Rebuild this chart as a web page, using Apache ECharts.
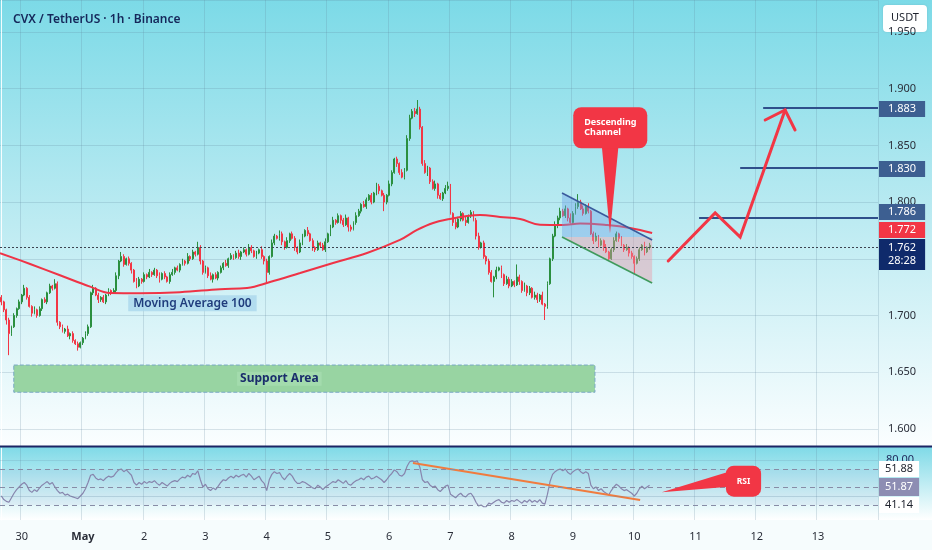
<!DOCTYPE html>
<html><head><meta charset="utf-8">
<script src="https://cdn.jsdelivr.net/npm/echarts@6/dist/echarts.min.js"></script>
<style>html,body{margin:0;padding:0;background:#f5fbfd}#c{width:932px;height:550px}</style>
</head><body><div id="c"></div><script>
// ---------- DATA ----------
const startHour = 16;              // first candle: 29 Apr 16:00, 1h candles
const slotCount = 344;             // visible hourly slots incl. empty right margin
const dayLabels = ['30','May','2','3','4','5','6','7','8','9','10','11','12','13'];
const firstOpen = 1.716;
const closes = [
1.712,1.705,1.696,1.684,1.690,1.700,1.706,1.712,1.718,1.724,
1.716,1.708,1.702,1.705,1.700,1.706,1.714,1.712,1.720,1.726,
1.724,1.728,1.694,1.690,1.686,1.688,1.682,1.684,1.678,1.675,
1.672,1.676,1.680,1.684,1.690,1.720,1.724,1.718,1.714,1.716,
1.712,1.718,1.722,1.720,1.722,1.735,1.748,1.752,1.745,1.750,
1.746,1.740,1.730,1.726,1.732,1.730,1.736,1.734,1.738,1.736,
1.740,1.735,1.732,1.737,1.734,1.730,1.736,1.738,1.742,1.740,
1.745,1.748,1.746,1.752,1.750,1.756,1.754,1.760,1.748,1.738,
1.742,1.735,1.732,1.736,1.733,1.738,1.742,1.746,1.744,1.750,
1.753,1.751,1.755,1.752,1.756,1.758,1.754,1.760,1.757,1.752,
1.755,1.758,1.752,1.748,1.738,1.752,1.764,1.770,1.768,1.772,
1.765,1.760,1.766,1.772,1.768,1.760,1.756,1.764,1.770,1.775,
1.772,1.766,1.760,1.758,1.764,1.762,1.758,1.765,1.772,1.778,
1.784,1.782,1.788,1.784,1.780,1.786,1.778,1.776,1.782,1.788,
1.792,1.798,1.796,1.802,1.806,1.800,1.808,1.814,1.810,1.806,
1.800,1.806,1.816,1.826,1.838,1.834,1.826,1.822,1.828,1.856,
1.874,1.880,1.878,1.882,1.866,1.834,1.826,1.830,1.818,1.812,
1.816,1.806,1.803,1.808,1.812,1.814,1.790,1.782,1.778,1.785,
1.790,1.784,1.782,1.788,1.791,1.784,1.770,1.760,1.764,1.752,
1.748,1.738,1.730,1.734,1.740,1.742,1.736,1.728,1.732,1.726,
1.730,1.727,1.734,1.730,1.722,1.726,1.720,1.724,1.716,1.718,
1.714,1.718,1.710,1.708,1.728,1.750,1.770,1.780,1.786,1.792,
1.788,1.794,1.786,1.782,1.790,1.796,1.800,1.794,1.790,1.796,
1.792,1.772,1.766,1.770,1.762,1.766,1.760,1.756,1.750,1.758,
1.766,1.772,1.768,1.762,1.758,1.760,1.755,1.752,1.746,1.750,
1.758,1.762,1.756,1.760,1.762];
// upper / lower wick lengths, in thousandths
const wickUp = [
2,1,1,2,1,2,1,2,1,3, 1,2,1,3,1,2,1,2,1,2, 1,4,2,1,2,1,3,1,2,1, 2,1,1,2,2,1,3,1,2,1,
2,1,2,1,2,3,1,4,2,1, 2,1,1,3,2,1,2,1,3,1, 2,1,3,1,2,1,2,3,1,2, 1,2,1,3,1,2,1,5,2,1,
2,1,3,1,2,1,2,1,3,1, 2,1,2,3,1,2,1,3,2,1, 2,1,3,1,2,1,3,2,1,3, 2,1,3,1,2,2,1,3,2,1,
3,1,2,1,2,1,2,3,1,2, 3,1,2,1,2,3,1,2,1,3, 2,1,3,2,1,2,1,3,2,1, 2,1,3,2,1,2,1,3,2,3,
3,2,3,8,2,1,3,2,1,2, 3,1,2,1,3,4,2,1,3,2, 2,1,3,1,2,1,2,3,1,2, 1,2,2,1,3,1,2,1,3,2,
2,1,11,2,1,3,1,2,1,3, 2,1,3,1,2,1,2,3,2,3, 2,3,1,4,2,3,7,2,3,2, 3,1,2,3,1,2,1,3,1,2,
3,2,1,2,1,3,1,2,1,2, 2,1,3,1,2];
const wickDn = [
3,2,4,19,2,1,2,1,2,1, 2,1,3,1,2,1,2,1,2,1, 2,1,3,2,1,2,1,3,2,1, 3,1,2,1,2,1,2,1,3,2,
1,2,1,2,1,2,3,1,2,1, 2,3,1,2,1,2,1,2,1,2, 1,2,3,1,2,1,2,1,2,1, 2,1,2,1,2,1,2,1,3,2,
1,2,1,3,1,2,1,2,1,2, 1,2,1,2,3,1,2,1,2,1, 2,1,2,3,9,2,1,2,1,2, 3,2,1,2,1,3,2,1,2,1,
2,1,3,2,1,2,1,2,1,2, 1,2,1,3,2,1,4,2,1,2, 1,2,1,2,1,2,1,2,3,1, 8,2,1,2,1,3,2,1,2,1,
2,1,3,1,2,2,1,3,2,1, 2,3,1,2,1,2,1,3,2,1, 2,1,3,1,2,1,3,2,1,2, 3,2,1,14,2,1,3,2,1,2,
1,2,1,3,2,1,3,2,1,2, 3,2,1,12,2,1,2,1,3,2, 1,2,3,1,2,1,2,1,2,1, 2,1,3,1,2,1,3,1,2,1,
2,1,3,1,2,1,3,2,9,1, 2,1,3,1,2];
const rsiValues = [
40,36,34,33,38,43,47,50,53,55, 52,46,44,47,45,49,52,54,56,53, 55,50,46,43,44,41,42,40,39,38,
37,40,43,48,55,63,64,60,58,59, 57,60,62,61,62,66,69,70,67,69, 66,63,55,52,55,53,56,54,56,55,
57,54,52,55,53,51,54,56,57,56, 59,61,60,63,61,65,64,68,58,50, 53,48,46,49,47,51,55,58,57,60,
62,60,63,61,63,64,61,65,62,58, 60,62,57,54,46,58,64,67,65,66, 61,58,62,65,62,57,54,54,56,55,
53,51,49,48,52,50,47,50,52,54, 56,55,58,56,54,57,53,52,55,57, 58,60,58,61,62,59,60,62,60,58,
55,58,62,65,69,67,63,62,65,73, 78,79,78,79,72,58,55,56,52,50, 51,47,45,48,51,52,42,40,38,41,
43,40,39,42,43,39,33,29,30,28, 28,32,31,33,35,36,33,32,35,33, 35,34,36,34,32,35,33,36,33,35,
33,36,32,31,42,56,64,67,69,70, 68,70,66,64,67,69,70,67,65,67, 65,52,48,50,46,48,45,43,41,46,
50,53,51,48,46,47,45,43,40,43, 48,51,48,50,52];
// Moving Average 100 read at points: [slot, price]
const maPoints = [[-0.5,1.755],[11.3,1.7454],[23,1.7355],[34.8,1.7254],[42.6,1.7198],[54.4,1.7196],
[70,1.7205],[85.7,1.7232],[96.3,1.7243],[105.3,1.7295],[117.1,1.7375],[130,1.7463],[143.3,1.7551],
[156.2,1.7666],[162.9,1.7754],[169.2,1.7816],[175.8,1.7851],[182.5,1.7877],[187.6,1.7886],[195.4,1.7869],
[203.3,1.7851],[211.1,1.7800],[220.1,1.7798],[226.8,1.7812],[237.4,1.7798],[246.4,1.7772],[255,1.7728]];
const lastPrice = 1.762, lastPriceTimer = '28:28', maLast = 1.772;
const targets = [{price:1.883, from:298.5},{price:1.830, from:289.5},{price:1.786, from:273.4}];
const arrowPath = [[261.3,1.7481],[279.7,1.7904],[289.5,1.7692],[307.1,1.8812]];
const arrowHead = [[299.3,1.8724],[307.1,1.8812],[311.0,1.8636]];
const channelUpper = [[219.7,1.8080],[255.0,1.7666]];
const channelLower = [[219.7,1.7692],[255.0,1.7287]];
const channelSplit = 1.7692;
const channelNote = {box:[[224.1,1.8836],[253.1,1.8474]], pointer:[[235.3,1.8490],[241.8,1.8490],[238.5,1.7725]], text:'Descending\nChannel'};
const supportArea = [[4.9,1.6563],[232.6,1.6323]];
const maLabelAt = [74.9,1.7108];
const rsiLevels = [{v:70, tag:'51.88'},{v:50, tag:'51.87'},{v:30, tag:'41.14'}];
const rsiTrend = [[161.3,76.7],[250.3,35.6]];
const rsiNote = {box:[[283.9,73.7],[297.7,39.2]], pointer:[[285,67.0],[285,50.3],[258.8,44.1]], text:'RSI'};

// ---------- BUILD ----------
const FONT = "'Noto Sans', 'DejaVu Sans', sans-serif";
const UP = '#2b8f3f', DOWN = '#f23645';
const gridLine = 'rgba(95,130,155,0.22)';
const X_MIN = -0.5, X_MAX = slotCount - 0.5;
const cats = [], catLabel = {};
for (let i = 0; i < slotCount; i++) {
  const h = (startHour + i) % 24, d = Math.floor((startHour + i) / 24) - 1;
  cats.push('t' + i);
  if (h === 0 && d >= 0 && d < dayLabels.length) catLabel['t' + i] = dayLabels[d];
}
const isDay = (i) => catLabel['t' + i] !== undefined;
const ohlc = closes.map((c, i) => {
  const o = i === 0 ? firstOpen : closes[i - 1];
  return [o, c, +(Math.min(o, c) - wickDn[i] / 1000).toFixed(4), +(Math.max(o, c) + wickUp[i] / 1000).toFixed(4)];
});

function tagLabel(bg, fg, text, offY) {
  return {show:true, position:'end', distance:1, formatter:text, backgroundColor:bg, color:fg,
    fontSize:11, fontFamily:FONT, padding:[2,9,2,9], lineHeight:12, offset:[0, offY || 0]};
}
function calloutRenderer(note, font, alignLeft) {
  return function (params, api) {
    const a = api.coord(note.box[0]), b = api.coord(note.box[1]);
    const x = Math.min(a[0], b[0]), y = Math.min(a[1], b[1]);
    const w = Math.abs(b[0] - a[0]), h = Math.abs(b[1] - a[1]);
    return {type:'group', children:[
      {type:'polygon', shape:{points:note.pointer.map(p => api.coord(p))}, style:{fill:'#f23645'}},
      {type:'rect', shape:{x, y, width:w, height:h, r:8}, style:{fill:'#f23645'}},
      {type:'text', style:{text:note.text, x: alignLeft ? x + 11 : x + w / 2, y: y + h / 2,
        fill:'#ffffff', font:font, lineHeight:10, textAlign: alignLeft ? 'left' : 'center', textVerticalAlign:'middle'}}
    ]};
  };
}
function renderChannel(params, api) {
  const u0 = channelUpper[0], u1 = channelUpper[1], l0 = channelLower[0], l1 = channelLower[1];
  const t = (channelSplit - u0[1]) / (u1[1] - u0[1]);
  const ux = u0[0] + t * (u1[0] - u0[0]);
  const c = (p) => api.coord(p);
  const A = c(u0), B = c(u1), L0 = c(l0), L1 = c(l1);
  return {type:'group', children:[
    {type:'polygon', shape:{points:[A, c([ux, channelSplit]), c([u0[0], channelSplit])]}, style:{fill:'rgba(110,165,230,0.42)'}},
    {type:'polygon', shape:{points:[c([l0[0], channelSplit]), c([l1[0], channelSplit]), L1]}, style:{fill:'rgba(235,150,165,0.42)'}},
    {type:'line', shape:{x1:A[0], y1:A[1], x2:B[0], y2:B[1]}, style:{stroke:'#3a5a9c', lineWidth:1.6}},
    {type:'line', shape:{x1:L0[0], y1:L0[1], x2:L1[0], y2:L1[1]}, style:{stroke:'#3f9a5c', lineWidth:1.6}}
  ]};
}

const option = {
  animation:false,
  backgroundColor:'#f5fbfd',
  textStyle:{fontFamily:FONT},
  title:{text:'CVX / TetherUS · 1h · Binance', left:8, top:9,
    textStyle:{fontSize:12, fontWeight:600, color:'#15275a', fontFamily:FONT}},
  graphic:[
    {type:'rect', z:-10, silent:true, shape:{x:0, y:0, width:932, height:446},
      style:{fill:{type:'linear', x:0, y:0, x2:0, y2:1, colorStops:[{offset:0, color:'#7cdae7'},{offset:0.5, color:'#bdebf2'},{offset:1, color:'#fbfeff'}]}}},
    {type:'rect', z:-10, silent:true, shape:{x:0, y:447, width:932, height:73},
      style:{fill:{type:'linear', x:0, y:0, x2:0, y2:1, colorStops:[{offset:0, color:'#7fdae7'},{offset:1, color:'#ffffff'}]}}},
    {type:'rect', z:-10, silent:true, shape:{x:0, y:520, width:932, height:30}, style:{fill:'#f6fcfd'}},
    {type:'line', z:50, silent:true, shape:{x1:0, y1:446.5, x2:932, y2:446.5}, style:{stroke:'#1b2565', lineWidth:2}},
    {type:'group', x:883, y:5, z:100, children:[
      {type:'rect', shape:{x:0, y:0, width:44, height:27, r:4}, style:{fill:'#ffffff', shadowBlur:2, shadowColor:'rgba(0,0,0,0.12)'}},
      {type:'text', style:{x:22, y:12.5, text:'USDT', fill:'#1e222d', font:'11px ' + FONT, textAlign:'center', textVerticalAlign:'middle'}}
    ]}
  ],
  grid:[{left:0, right:54, top:0, height:446}, {left:0, right:54, top:448, height:72}],
  xAxis:[
    {type:'category', gridIndex:0, data:cats, boundaryGap:true, axisLine:{show:false}, axisTick:{show:false},
      axisLabel:{show:false}, splitLine:{show:true, interval:(i) => isDay(i), lineStyle:{color:gridLine}}},
    {type:'value', gridIndex:0, min:X_MIN, max:X_MAX, show:false},
    {type:'category', gridIndex:1, data:cats, boundaryGap:true, axisLine:{show:false}, axisTick:{show:false},
      axisLabel:{interval:(i) => isDay(i), color:'#2a2e39', fontSize:11, margin:11, fontFamily:FONT,
        formatter:(v) => catLabel[v] === 'May' ? '{b|May}' : (catLabel[v] || ''),
        rich:{b:{fontWeight:'bold', fontSize:11, color:'#2a2e39', fontFamily:FONT}}},
      splitLine:{show:true, interval:(i) => isDay(i), lineStyle:{color:gridLine}}},
    {type:'value', gridIndex:1, min:X_MIN, max:X_MAX, show:false}
  ],
  yAxis:[
    {type:'value', gridIndex:0, position:'right', min:1.5849, max:1.9782, splitNumber:8,
      axisLine:{show:true, lineStyle:{color:'rgba(255,255,255,0.9)'}}, axisTick:{show:false},
      axisLabel:{color:'#2a2e39', fontSize:11, margin:10, fontFamily:FONT, showMinLabel:false, showMaxLabel:false,
        formatter:(v) => v.toFixed(3)},
      splitLine:{show:true, lineStyle:{color:gridLine}}},
    {type:'value', gridIndex:1, position:'right', min:13.3, max:93.3,
      axisLine:{show:true, lineStyle:{color:'rgba(255,255,255,0.9)'}}, axisTick:{show:false},
      axisLabel:{show:false}, splitLine:{show:false}}
  ],
  series:[
    {type:'candlestick', xAxisIndex:0, yAxisIndex:0, data:ohlc, barWidth:1.4,
      itemStyle:{color:UP, color0:DOWN, borderColor:UP, borderColor0:DOWN, borderWidth:1},
      markLine:{silent:true, symbol:'none', animation:false,
        lineStyle:{color:'#3d4350', type:[2,2], width:1.2},
        data:[{yAxis:lastPrice, label:{show:true, position:'end', distance:1, formatter:lastPrice.toFixed(3) + '\n' + lastPriceTimer,
          backgroundColor:'#0f2a6b', color:'#ffffff', fontSize:11, fontFamily:FONT, lineHeight:13, padding:[3,9,2,9], offset:[0,7]}}]}},
    {type:'line', xAxisIndex:1, yAxisIndex:0, data:maPoints, smooth:0.4, symbol:'none', z:3,
      lineStyle:{color:'#ef3346', width:2},
      markLine:{silent:true, symbol:'none', lineStyle:{color:'transparent', width:0},
        data:[{yAxis:maLast, label:tagLabel('#f23645', '#ffffff', maLast.toFixed(3), -6)}]},
      markArea:{silent:true,
        itemStyle:{color:'#98d4a2', borderColor:'#79a7c6', borderWidth:1, borderType:'dashed'},
        label:{show:true, position:'inside', offset:[-25,0], formatter:'Support Area', color:'#1a2d6b', fontWeight:'bold', fontSize:12,
          fontFamily:FONT, backgroundColor:'rgba(168,222,178,0.7)', padding:[1,3]},
        data:[[{coord:supportArea[0]}, {coord:supportArea[1]}]]},
      markPoint:{silent:true, symbol:'rect', symbolSize:0,
        data:[{coord:maLabelAt, label:{show:true, position:'inside', formatter:'Moving Average 100', color:'#1f3c7c',
          fontWeight:600, fontSize:12, fontFamily:FONT, backgroundColor:'rgba(170,215,236,0.8)', padding:[2,5]}}]}},
    {type:'custom', xAxisIndex:1, yAxisIndex:0, data:[channelUpper[0]], encode:{x:0, y:1}, z:4, silent:true,
      renderItem:renderChannel},
    {type:'line', xAxisIndex:1, yAxisIndex:0, data:arrowPath, symbol:'none', z:5, silent:true,
      lineStyle:{color:'#f23645', width:3, join:'miter', cap:'round'},
      markLine:{silent:true, symbol:'none', lineStyle:{color:'#2f4f8a', width:2, type:'solid'},
        data:targets.map((t) => {
          const lbl = tagLabel('#3d5f91', '#ffffff', t.price.toFixed(3), t.price === 1.786 ? -6 : 1);
          return [{coord:[t.from, t.price], label:lbl}, {coord:[X_MAX, t.price], label:lbl}];
        })}},
    {type:'line', xAxisIndex:1, yAxisIndex:0, data:arrowHead, symbol:'none', z:5, silent:true,
      lineStyle:{color:'#f23645', width:3, join:'miter', cap:'round'}},
    {type:'custom', xAxisIndex:1, yAxisIndex:0, data:[channelNote.box[0]], encode:{x:0, y:1}, z:6, silent:true,
      renderItem:calloutRenderer(channelNote, 'bold 9px ' + FONT, true)},
    // RSI pane
    {type:'line', xAxisIndex:2, yAxisIndex:1, data:rsiValues, symbol:'none', silent:true,
      lineStyle:{color:'#8785ad', width:1.2},
      markArea:{silent:true, itemStyle:{color:'rgba(120,110,190,0.07)'}, data:[[{yAxis:30}, {yAxis:70}]]},
      markLine:{silent:true, symbol:'none', lineStyle:{color:'#878ca6', type:[5,4], width:1},
        data:[
          {yAxis:80, lineStyle:{color:'rgba(95,130,155,0.18)', type:'solid'}, label:{show:true, position:'end', distance:8,
            formatter:'80.00', color:'#1b2458', fontSize:11, fontFamily:FONT}},
          {yAxis:40, lineStyle:{color:'rgba(95,130,155,0.25)', type:'solid'}, label:{show:false}},
          {yAxis:rsiLevels[0].v, label:{show:true, position:'end', distance:1, formatter:rsiLevels[0].tag, backgroundColor:'#ffffff',
            color:'#1e222d', fontSize:11, fontFamily:FONT, padding:[2,6], lineHeight:12}},
          {yAxis:rsiLevels[1].v, label:{show:true, position:'end', distance:1, formatter:rsiLevels[1].tag, backgroundColor:'#8d8db3',
            color:'#ffffff', fontSize:11, fontFamily:FONT, padding:[3,6], lineHeight:12}},
          {yAxis:rsiLevels[2].v, label:{show:true, position:'end', distance:1, formatter:rsiLevels[2].tag, backgroundColor:'#ffffff',
            color:'#1e222d', fontSize:11, fontFamily:FONT, padding:[2,6], lineHeight:12}}
        ]}},
    {type:'line', xAxisIndex:3, yAxisIndex:1, data:rsiTrend, symbol:'none', silent:true,
      lineStyle:{color:'#f07b3f', width:2}},
    {type:'custom', xAxisIndex:3, yAxisIndex:1, data:[rsiNote.box[0]], encode:{x:0, y:1}, z:6, silent:true,
      renderItem:calloutRenderer(rsiNote, 'bold 8.5px ' + FONT, false)}
  ]
};
const chart = echarts.init(document.getElementById('c'), null, {renderer:'canvas'});
chart.setOption(option);
</script></body></html>
